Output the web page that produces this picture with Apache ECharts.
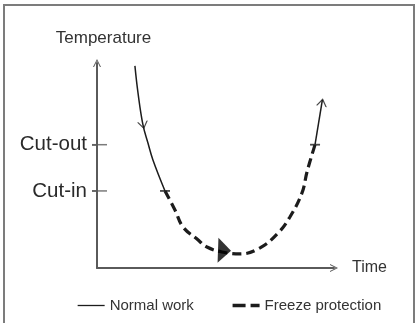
<!DOCTYPE html>
<html>
<head>
<meta charset="utf-8">
<script src="https://cdn.jsdelivr.net/npm/echarts@6/dist/echarts.min.js"></script>
<style>
  html, body { margin: 0; padding: 0; background: #fff; }
  #chart { position: absolute; left: 0; top: 0; width: 415px; height: 323px; }
  #frame { position: absolute; left: 3px; top: 4px; width: 408px; height: 330px;
           border: 2px solid #7c7c7c; border-bottom: none; pointer-events: none; }
</style>
</head>
<body>
<div id="chart"></div>
<div id="frame"></div>
<script>
// ---- data (time, temperature) ----
const normalWorkDown = [[1.60, 13.11], [1.73, 11.36], [1.94, 9.28], [2.15, 8.11], [2.36, 7.01], [2.87, 5.0]];
const freezeProtection = [[2.87, 5.0], [3.29, 3.76], [3.63, 2.66], [4.22, 1.88], [4.64, 1.36], [5.27, 1.04],
                          [6.03, 0.91], [6.88, 1.30], [7.64, 2.27], [8.14, 3.31], [8.65, 4.87], [8.86, 6.23], [9.20, 8.0]];
const normalWorkUp = [[9.20, 8.0], [9.51, 10.9]];
const switchPoints = [[2.87, 5.0], [9.20, 8.0]];
const directionArrows = [[1.95, 9.25, -169], [9.50, 10.75, -10]];
const directionTriangle = [[5.38, 1.14, -92]];
const yTickValues = [5, 8];
const yTickLabels = ['Cut-in', 'Cut-out'];
const seriesNames = ['Normal work', 'Freeze protection'];
const xAxisName = 'Time';
const yAxisName = 'Temperature';

const INK = '#1c1c1c';
const AXIS = '#5a5a5a';
const FONT = '"Liberation Sans", Arial, sans-serif';
const chevron = 'path://M0,10 L5,0 L10,10 L8.7,10 L5,2.6 L1.3,10 Z';

const chart = echarts.init(document.getElementById('chart'), null, { renderer: 'canvas' });
chart.setOption({
  animation: false,
  backgroundColor: '#fff',
  grid: { left: 97, right: 81, top: 63, bottom: 55, containLabel: false },
  legend: {
    left: 77, top: 298, padding: 0,
    itemWidth: 27, itemHeight: 14, itemGap: 37,
    itemStyle: { opacity: 0 },
    textStyle: { fontFamily: FONT, fontSize: 15, color: '#333' },
    data: [
      { name: seriesNames[0], lineStyle: { color: INK, width: 1.3, type: 'solid' } },
      { name: seriesNames[1], lineStyle: { color: INK, width: 3.5, type: [13, 5] } }
    ]
  },
  xAxis: {
    type: 'value', min: 0, max: 10,
    name: xAxisName, nameLocation: 'end', nameGap: 18,
    nameTextStyle: { fontFamily: FONT, fontSize: 16, color: '#333', verticalAlign: 'middle', padding: [3, 0, 0, 0] },
    axisLine: { show: true, symbol: ['none', chevron], symbolSize: [10, 8],
                lineStyle: { color: AXIS, width: 2 } },
    axisTick: { show: false }, axisLabel: { show: false }, splitLine: { show: false }
  },
  yAxis: {
    type: 'value', min: 0, max: 13.3,
    name: yAxisName, nameLocation: 'end', nameGap: 16,
    nameTextStyle: { fontFamily: FONT, fontSize: 17, color: '#333', padding: [0, 0, 0, 13] },
    axisLine: { show: true, symbol: ['none', chevron], symbolSize: [10, 8],
                lineStyle: { color: AXIS, width: 2 } },
    axisTick: { show: true, length: 5, customValues: yTickValues, lineStyle: { color: AXIS, width: 1.5 } },
    axisLabel: { show: true, customValues: yTickValues, margin: 10,
                 fontFamily: FONT, fontSize: 20.5, color: '#2a2a2a',
                 formatter: v => yTickLabels[yTickValues.indexOf(v)] || '' },
    splitLine: { show: false }
  },
  series: [
    { name: seriesNames[0], type: 'line', data: normalWorkDown, smooth: 0.4, symbol: 'none',
      lineStyle: { color: INK, width: 1.5 }, itemStyle: { color: INK } },
    { name: seriesNames[1], type: 'line', data: freezeProtection, smooth: 0.4, symbol: 'none',
      lineStyle: { color: INK, width: 3.2, type: [9, 5] }, itemStyle: { color: INK } },
    { name: seriesNames[0], type: 'line', data: normalWorkUp, symbol: 'none',
      lineStyle: { color: INK, width: 1.5 }, itemStyle: { color: INK } },
    { type: 'scatter', data: switchPoints, symbol: 'rect', symbolSize: [10, 1.8],
      itemStyle: { color: INK }, z: 5 },
    // tick marks crossing the temperature axis at cut-in / cut-out
    { type: 'scatter', data: yTickValues.map(v => [0, v]), symbol: 'rect', symbolSize: [15, 1.5],
      symbolOffset: [2.5, 0], clip: false, itemStyle: { color: AXIS }, z: 4 },
    { type: 'scatter', data: directionArrows, symbol: chevron, symbolSize: [11, 8],
      symbolRotate: (v) => v[2], itemStyle: { color: INK }, z: 5 },
    { type: 'scatter', data: directionTriangle, symbol: 'triangle', symbolSize: [25, 13],
      symbolRotate: (v) => v[2], itemStyle: { color: '#000' }, z: 6 }
  ]
});
</script>
</body>
</html>
